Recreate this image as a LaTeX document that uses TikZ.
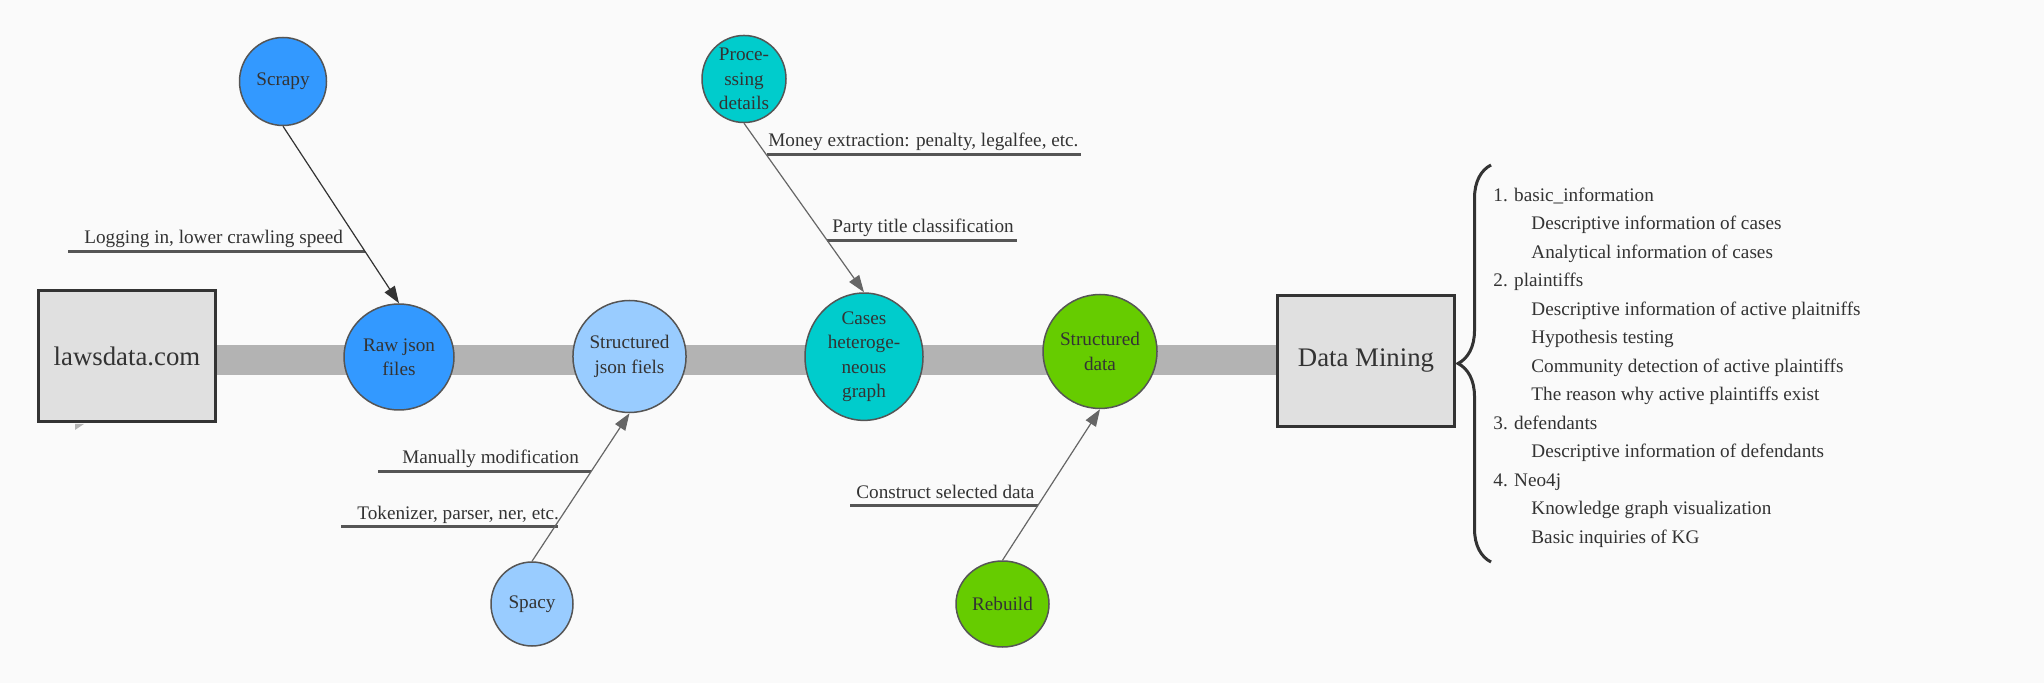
\documentclass[tikz,border=0pt]{standalone}
\usepackage{fontspec}
\setmainfont{Liberation Serif}
\newfontfamily\tms{Liberation Serif}
\usetikzlibrary{arrows.meta,decorations.pathreplacing,shapes.geometric}
\definecolor{bgc}{RGB}{250,250,250}
\definecolor{txt}{RGB}{51,51,51}
\definecolor{cblue}{RGB}{51,153,255}
\definecolor{clight}{RGB}{153,204,255}
\definecolor{cteal}{RGB}{0,204,204}
\definecolor{cgreen}{RGB}{102,204,0}
\definecolor{boxfill}{RGB}{224,224,224}
\definecolor{boxline}{RGB}{51,51,51}
\definecolor{circline}{RGB}{85,85,85}
\definecolor{bbone}{RGB}{179,179,179}
\definecolor{uline}{RGB}{85,85,85}
\definecolor{arrgray}{RGB}{102,102,102}
\begin{document}
\begin{tikzpicture}[x=0.5pt,y=-0.5pt,
  every node/.style={text=txt},
  small/.style={font=\tms\fontsize{9.6}{12.2}\selectfont},
  big/.style={font=\tms\fontsize{13.4}{16}\selectfont},
  bigbox/.style={big,draw=boxline,line width=1.5pt,fill=boxfill,minimum width=88.5pt,minimum height=65.5pt,inner sep=0pt},
  circ/.style 2 args={small,ellipse,draw=circline,line width=0.75pt,inner sep=0pt,align=center,minimum width=#1,minimum height=#2},
  lab/.style={small,anchor=base west,inner sep=0pt},
  ul/.style={draw=uline,line width=1.5pt},
  arrdark/.style={draw=boxline,line width=0.6pt,-{Triangle[length=8.5pt,width=6pt]}},
  arrlight/.style={draw=arrgray,line width=0.6pt,-{Triangle[length=8.5pt,width=6pt]}},
  litem/.style={small,anchor=base west,inner sep=0pt},
  backbone/.style={draw=bbone,line width=15pt}
]
\useasboundingbox[fill=bgc] (0,0) rectangle (2044,683);

% boxes
\node[bigbox] (laws) at (127,356) {lawsdata.com};
\node[bigbox] (dm) at (1366,361) {Data Mining};
\fill[bbone] (75,424) -- (84,424) -- (75,430) -- cycle;

% backbone
\draw[backbone] (laws.east |- 0,360) -- (dm.west |- 0,360);

% circles
\node[circ={43.5pt}{44pt},fill=cblue] (scrapy) at (283,81.5) {Scrapy};
\node[circ={55pt}{53pt},fill=cblue] (raw) at (399,357) {Raw json\\files};
\node[circ={55.5pt}{56pt},fill=clight] (sjson) at (629.5,356.5) {Structured\\json fiels};
\node[circ={41pt}{42pt},fill=clight] (spacy) at (532,604) {Spacy};
\node[circ={42pt}{41.5pt},fill=cteal] (proc) at (744,79) {Proce-\\ssing\\details};
\node[circ={59pt}{58pt},fill=cteal] (cases) at (864,356.7) {Cases\\heteroge-\\neous\\graph};
\node[circ={57pt}{57pt},fill=cgreen] (sdata) at (1100,351.5) {Structured\\data};
\node[circ={46.5pt}{43pt},fill=cgreen] (rebuild) at (1002.5,604) {Rebuild};

% labels with underlines
\coordinate (u1a) at (68,251.7); \coordinate (u1b) at (365,251.7);
\draw[ul] (u1a) -- (u1b);
\node[lab] (t1) at (84,244) {Logging in, lower crawling speed};

\coordinate (u2a) at (378,471.7); \coordinate (u2b) at (591,471.7);
\draw[ul] (u2a) -- (u2b);
\node[lab] (t2) at (402,464) {Manually modification};

\coordinate (u3a) at (341,527); \coordinate (u3b) at (558,527);
\draw[ul] (u3a) -- (u3b);
\node[lab] (t3) at (357,519.5) {Tokenizer, parser, ner, etc.};

\coordinate (u4a) at (767,154.6); \coordinate (u4b) at (1081,154.6);
\draw[ul] (u4a) -- (u4b);
\node[lab] (t4) at (768,147) {Money extraction: penalty, legalfee, etc.};

\coordinate (u5a) at (827,240.8); \coordinate (u5b) at (1017,240.8);
\draw[ul] (u5a) -- (u5b);
\node[lab] (t5) at (832,233) {Party title classification};

\coordinate (u6a) at (850,506); \coordinate (u6b) at (1038,506);
\draw[ul] (u6a) -- (u6b);
\node[lab] (t6) at (856,498.5) {Construct selected data};

% arrows
\draw[arrdark] (scrapy.south) -- (raw.north);
\draw[arrlight] (spacy.north) -- (sjson.south);
\draw[arrlight] (proc.south) -- (cases.north);
\draw[arrlight] (rebuild.north) -- (sdata.south);

% brace
\draw[draw=boxline,line width=1.5pt,decorate,decoration={brace,amplitude=16.5pt}] (1491,562) -- (1491,165);

% list
\node[litem] (l1) at (1493,202) {1. basic\_information};
\node[litem] (l2) at (1531,230) {Descriptive information of cases};
\node[litem] (l3) at (1531,259) {Analytical information of cases};
\node[litem] (l4) at (1493,287) {2. plaintiffs};
\node[litem] (l5) at (1531,316) {Descriptive information of active plaitniffs};
\node[litem] (l6) at (1531,344) {Hypothesis testing};
\node[litem] (l7) at (1531,373) {Community detection of active plaintiffs};
\node[litem] (l8) at (1531,401) {The reason why active plaintiffs exist};
\node[litem] (l9) at (1493,430) {3. defendants};
\node[litem] (l10) at (1531,458) {Descriptive information of defendants};
\node[litem] (l11) at (1493,487) {4. Neo4j};
\node[litem] (l12) at (1531,515) {Knowledge graph visualization};
\node[litem] (l13) at (1531,544) {Basic inquiries of KG};
\end{tikzpicture}
\end{document}
